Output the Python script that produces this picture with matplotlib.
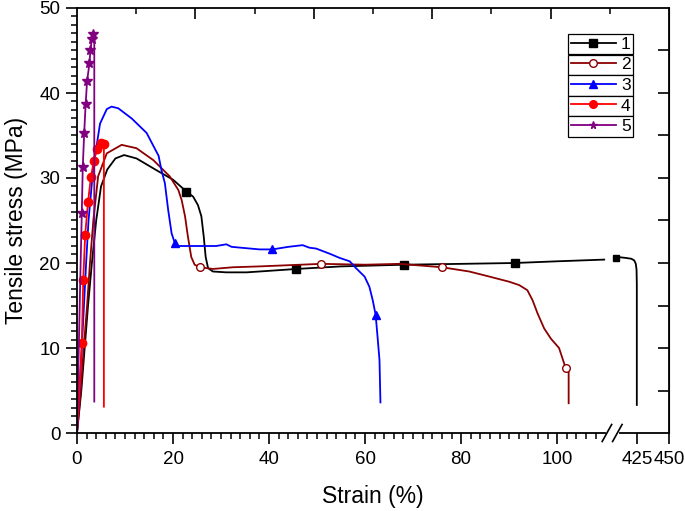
import numpy as np
import matplotlib
matplotlib.use("Agg")
import matplotlib.pyplot as plt
from matplotlib.legend import Legend
from matplotlib.lines import Line2D

plt.rcParams['font.family'] = ['Liberation Sans', 'DejaVu Sans']

# sample 1 (black, squares), split by the axis break
x1 = [0, 0.9, 1.6, 2.3, 3.1, 4.0, 5.0, 6.3, 8.0, 9.8, 12.4, 16.6, 20.0, 22.8, 24.2, 25.2,
      25.9, 26.4, 26.8, 27.3, 28.3, 31.1, 35.3, 38.0, 45.7, 55.0, 68.2, 80.0, 91.2, 100.0, 109.8]
y1 = [0, 5, 10, 15, 20, 25, 29, 31, 32.3, 32.7, 32.3, 30.9, 29.8, 28.4, 27.8, 26.8,
      25.5, 23.1, 20.7, 19.4, 19.0, 18.9, 18.9, 19.0, 19.3, 19.6, 19.8, 19.9, 20.0, 20.2, 20.4]
x1b = [408.6, 410, 416, 420.5, 422.8, 424.0, 424.6, 424.8, 424.8]
y1b = [20.6, 20.7, 20.6, 20.5, 20.3, 19.9, 19.2, 17.5, 3.3]

# sample 2 (dark red, open circles)
x2 = [0, 0.8, 1.4, 2.1, 2.7, 3.4, 4.4, 6.2, 9.3, 12.4, 15.9, 19.3, 21.1, 21.8, 22.5, 23.1,
      23.8, 24.5, 25.6, 28.3, 32.5, 38.0, 50.9, 60.0, 67.2, 76.0, 81.7, 85.9, 90.0, 92.1,
      93.8, 94.9, 95.9, 97.3, 98.7, 100.4, 101.1, 101.8, 102.4, 102.4]
y2 = [0, 5, 10, 15, 20, 25, 30.2, 32.9, 33.9, 33.5, 32.1, 30.2, 28.6, 27.4, 25.5, 23.1,
      20.7, 19.8, 19.5, 19.3, 19.5, 19.6, 19.9, 19.8, 19.9, 19.5, 19.0, 18.4, 17.8, 17.4,
      16.8, 15.6, 14.1, 12.3, 11.1, 10.0, 8.8, 7.6, 7.2, 3.5]

# sample 3 (blue, triangles)
x3 = [0, 1.0, 1.9, 2.4, 3.4, 4.8, 6.2, 7.2, 8.6, 11.4, 14.5, 17.0, 17.6, 18.3, 19.0, 19.7,
      20.4, 21.1, 29.0, 31.1, 32.2, 38.0, 40.7, 44.0, 47.0, 48.4, 49.8, 52.6, 54.7, 56.8,
      58.1, 59.9, 60.9, 61.6, 62.2, 62.6, 63.0, 63.2]
y3 = [0, 10, 20, 25, 31.3, 36.4, 38.1, 38.4, 38.2, 37.0, 35.3, 32.6, 30.9, 29.4, 26.2, 23.5,
      22.3, 22.0, 22.0, 22.2, 21.9, 21.6, 21.6, 21.9, 22.1, 21.8, 21.7, 21.1, 20.6, 20.2,
      19.4, 18.4, 17.2, 15.6, 13.9, 11.3, 8.6, 3.6]

# sample 4 (red, filled circles)
x4 = [0, 0.5, 1.0, 1.3, 1.7, 2.3, 2.9, 3.5, 4.2, 4.9, 5.6, 5.6]
y4 = [0, 5, 10.6, 18.0, 23.3, 27.2, 30.1, 32.0, 33.4, 34.1, 34.0, 3.1]

# sample 5 (purple, stars)
x5 = [0, 0.3, 0.6, 0.8, 1.0, 1.2, 1.5, 1.8, 2.1, 2.6, 2.8, 3.1, 3.4, 3.6, 3.6]
y5 = [0, 8, 16, 21, 25.9, 31.3, 35.3, 38.7, 41.4, 43.5, 45.1, 46.3, 46.9, 46.9, 3.7]

labels = ["1", "2", "3", "4", "5"]
xticks = [0, 20, 40, 60, 80, 100, 425, 450]

# broken x axis: 0..110 then 400..450 compressed
BRK_L, BRK_R, K = 110.0, 400.0, 0.266


def fwd(x):
    x = np.asarray(x, dtype=float)
    return np.where(x <= BRK_L, x, np.where(x >= BRK_R, BRK_L + (x - BRK_R) * K, BRK_L))


def inv(t):
    t = np.asarray(t, dtype=float)
    return np.where(t <= BRK_L, t, BRK_R + (t - BRK_L) / K)


fig = plt.figure(figsize=(6.85, 5.11), dpi=100)
ax = fig.add_axes([77 / 685, 78 / 511, 592 / 685, 425 / 511])
ax.set_xscale('function', functions=(fwd, inv))

lw = 1.3
ms = 5.5
styles = [
    dict(color='black', marker='s', mfc='black'),
    dict(color='#8B0000', marker='o', mfc='white'),
    dict(color='#0000FF', marker='^', mfc='#0000FF'),
    dict(color='#FF0000', marker='o', mfc='#FF0000'),
    dict(color='#800080', marker='*', mfc='#800080'),
]

ax.plot(x1, y1, lw=lw, ms=ms, markevery=[13, 24, 26, 28], **styles[0])
ax.plot(x1b, y1b, lw=lw, ms=4, markevery=[0], **styles[0])
ax.plot(x2, y2, lw=lw, ms=ms, markevery=[18, 22, 25, 37], **styles[1])
ax.plot(x3, y3, lw=lw, ms=ms, markevery=[16, 22, 34], **styles[2])
ax.plot(x4, y4, lw=lw, ms=ms + 0.5, markevery=list(range(2, 11)), **styles[3])
ax.plot(x5, y5, lw=lw, ms=ms + 1.5, markevery=list(range(4, 13)), **styles[4])

ax.set_xlim(0, 450)
ax.set_ylim(0, 50)
ax.set_xticks(xticks)
ax.set_xticklabels([str(v) for v in xticks])
ax.set_xticks([v for v in range(2, 110, 2) if v % 20 != 0], minor=True)
ax.set_yticks(range(0, 51, 10))
ax.set_yticks([v for v in range(0, 51) if v % 10 != 0], minor=True)
ax.tick_params(which='major', direction='out', length=8, width=1.2, labelsize=13.5, pad=4)
ax.tick_params(which='minor', direction='out', length=4.5, width=1.1)
ax.tick_params(axis='x', which='major', pad=5)
for sp in ax.spines.values():
    sp.set_linewidth(1.3)

ax.set_xlabel('Strain (%)', fontsize=16.5, labelpad=12)
ax.set_ylabel('Tensile stress (MPa)', fontsize=16.5, labelpad=8)

# right spine ticks
ry = ax.secondary_yaxis('right')
ry.set_yticks(range(5, 50, 5))
ry.tick_params(direction='in', length=8, width=1.2, labelright=False)

# top spine ticks (evenly spaced, no labels)
top = ax.twiny()
top.set_xlim(0, 1)
top.set_xticks([0.2, 0.4, 0.6, 0.8])
top.set_xticks([0.1, 0.3, 0.5, 0.7, 0.9], minor=True)
top.tick_params(which='major', direction='in', length=8, width=1.2, labeltop=False)
top.tick_params(which='minor', direction='in', length=4.5, width=1.1)
for sp in top.spines.values():
    sp.set_visible(False)

# axis break marks
b0, b1 = fwd(BRK_L + 0.0) / fwd(450), (BRK_L + 1.8) / fwd(450)
ax.plot([b0 + 0.004, b1 + 0.006], [0, 0], transform=ax.transAxes, color='white',
        lw=3, clip_on=False, zorder=10)
for bx in (b0 + 0.003, b1 + 0.006):
    ax.plot([bx - 0.008, bx + 0.008], [-0.02, 0.02], transform=ax.transAxes,
            color='black', lw=1.2, clip_on=False, zorder=11)

# legend: one framed box per entry, stacked
box_h = 20.6
for i, (lab, st) in enumerate(zip(labels, styles)):
    h = Line2D([], [], lw=lw, ms=ms, **st)
    leg = Legend(ax, [h], [lab], loc='upper left',
                 bbox_to_anchor=(568 / 685, 1 - (34 + i * box_h) / 511),
                 bbox_transform=fig.transFigure, fontsize=12.5, frameon=True,
                 fancybox=False, edgecolor='black', framealpha=1, borderpad=0.15,
                 handlelength=2.6, handletextpad=0.3, borderaxespad=0)
    leg.get_frame().set_linewidth(0.9)
    ax.add_artist(leg)

fig.savefig('out.png', dpi=100)
